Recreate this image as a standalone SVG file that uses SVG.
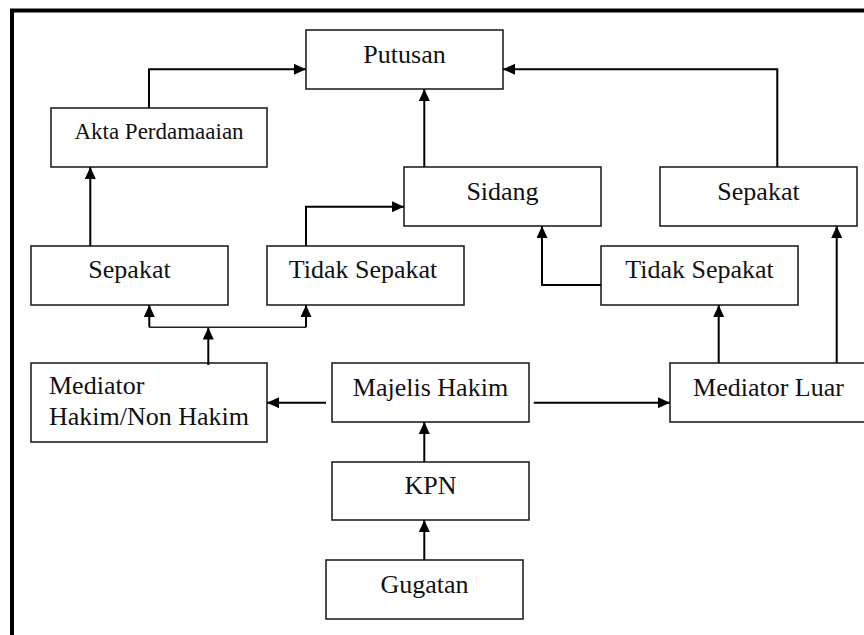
<svg xmlns="http://www.w3.org/2000/svg" width="864" height="635" viewBox="0 0 864 635">
<defs>
<marker id="arr" viewBox="0 0 12 11" refX="12" refY="5.5" markerWidth="12" markerHeight="11" markerUnits="userSpaceOnUse" orient="auto">
<path d="M0,0 L12,5.5 L0,11 Z" fill="#000"/>
</marker>
</defs>
<style>
.box{fill:#fff;stroke:#222;stroke-width:1.6}
.t{font-family:"Liberation Serif","Times New Roman",serif;font-size:26px;fill:#111;text-anchor:middle}
.c{fill:none;stroke:#000;stroke-width:2}
.thin{fill:none;stroke:#222;stroke-width:1.4}
</style>
<rect x="0" y="0" width="864" height="635" fill="#fff"/>
<rect x="12" y="10.5" width="900" height="700" fill="none" stroke="#000" stroke-width="4"/>
<g id="putusan"><rect class="box" x="306" y="30" width="197" height="59"/><text class="t" x="404.5" y="62.5">Putusan</text></g>
<g id="akta"><rect class="box" x="51" y="108" width="216" height="59"/><text class="t" x="159" y="138.5" style="font-size:23px">Akta Perdamaaian</text></g>
<g id="sidang"><rect class="box" x="404" y="167" width="197" height="59"/><text class="t" x="502.5" y="199.5">Sidang</text></g>
<g id="sepakat2"><rect class="box" x="660" y="167" width="197" height="59"/><text class="t" x="758.5" y="199.5">Sepakat</text></g>
<g id="sepakat1"><rect class="box" x="31" y="246" width="197" height="59"/><text class="t" x="129.5" y="277.5">Sepakat</text></g>
<g id="tidak1"><rect class="box" x="267" y="246" width="197" height="59"/><text class="t" x="363" y="277.5">Tidak Sepakat</text></g>
<g id="tidak2"><rect class="box" x="601" y="246" width="197" height="59"/><text class="t" x="699.5" y="277.5">Tidak Sepakat</text></g>
<g id="medhakim"><rect class="box" x="31" y="363" width="236" height="79"/><text class="t" x="49" y="393.5" style="text-anchor:start">Mediator</text><text class="t" x="49" y="424.5" style="text-anchor:start">Hakim/Non Hakim</text></g>
<g id="majelis"><rect class="box" x="332" y="363" width="197" height="59"/><text class="t" x="430.5" y="396">Majelis Hakim</text></g>
<g id="medluar"><rect class="box" x="670" y="363" width="197" height="59"/><text class="t" x="768.5" y="396">Mediator Luar</text></g>
<g id="kpn"><rect class="box" x="332" y="462" width="197" height="58"/><text class="t" x="430.5" y="493.5">KPN</text></g>
<g id="gugatan"><rect class="box" x="326" y="560" width="197" height="59"/><text class="t" x="424.5" y="592.5">Gugatan</text></g>
<g id="connectors">
<path class="c" d="M149,108 V69.3 H306" marker-end="url(#arr)"/>
<path class="c" d="M424.3,167 V89" marker-end="url(#arr)"/>
<path class="c" d="M777.3,167 V69.3 H503" marker-end="url(#arr)"/>
<path class="c" d="M90.3,246 V167" marker-end="url(#arr)"/>
<path class="c" d="M306,246 V206.7 H404" marker-end="url(#arr)"/>
<path class="c" d="M601,285 H542 V226" marker-end="url(#arr)"/>
<path class="c" d="M208.3,365 V327.5" marker-end="url(#arr)"/>
<path class="thin" d="M149.3,327.3 H306"/>
<path class="c" d="M149.3,327.3 V305" marker-end="url(#arr)"/>
<path class="c" d="M306,327.3 V305" marker-end="url(#arr)"/>
<path class="c" d="M326,402.7 H267" marker-end="url(#arr)"/>
<path class="c" d="M533.7,402.7 H670" marker-end="url(#arr)"/>
<path class="c" d="M718.7,363 V305" marker-end="url(#arr)"/>
<path class="c" d="M836.7,363 V226" marker-end="url(#arr)"/>
<path class="c" d="M424.3,462 V422" marker-end="url(#arr)"/>
<path class="c" d="M424.3,560 V520" marker-end="url(#arr)"/>
</g>
</svg>
